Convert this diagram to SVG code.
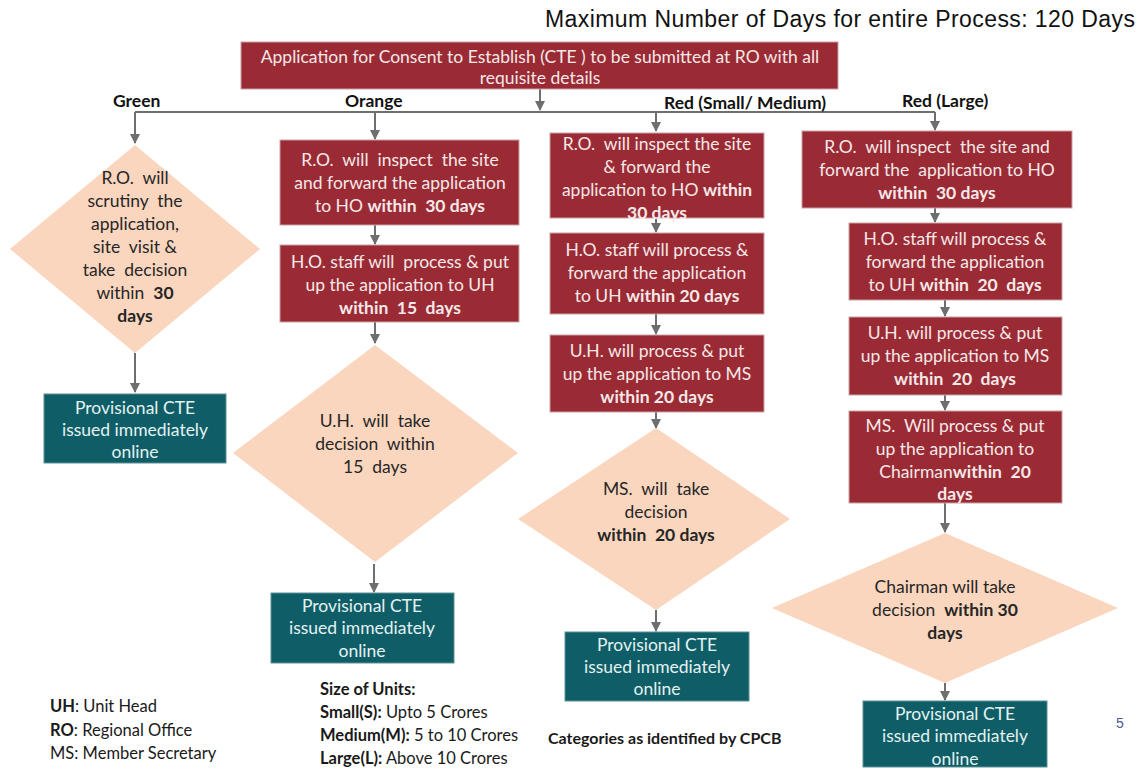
<svg xmlns="http://www.w3.org/2000/svg" width="1139" height="771" viewBox="0 0 1139 771" xml:space="preserve">
<style>
.bg{fill:#ffffff}
.red{fill:#9a2b35;stroke:#c9a0a4;stroke-width:1}
.dia{fill:#fbd6bf}
.teal{fill:#0f5e67;stroke:#5f8f95;stroke-width:1}
text{font-family:Lato,"Open Sans","Liberation Sans",sans-serif;font-size:17.5px;white-space:pre}
.wt{fill:#f6e8e8;text-anchor:middle}
.tt{fill:#e4f2f2;text-anchor:middle}
.dt{fill:#262626;text-anchor:middle}
.lab{fill:#111;font-weight:bold;font-size:17.5px}
.leg{fill:#1a1a1a;font-size:16.5px}
.b{font-weight:bold}
.con line,.con path{stroke:#6e6e6e;stroke-width:2;fill:none}
</style>
<defs>
<marker id="ah" viewBox="0 0 10 10" refX="9" refY="5" markerWidth="5" markerHeight="5" orient="auto" markerUnits="strokeWidth">
<path d="M0,0 L10,5 L0,10 z" fill="#6e6e6e"/>
</marker>
</defs>
<rect class="bg" x="0" y="0" width="1139" height="771"/>

<text x="1135" y="27" text-anchor="end" textLength="590" lengthAdjust="spacing" style="font-family:'Liberation Sans Narrow','Liberation Sans',Arial,sans-serif;font-size:23px;fill:#111">Maximum Number of Days for entire Process: 120 Days</text>

<g id="connectors" class="con">
<line x1="540" y1="89" x2="540" y2="110" marker-end="url(#ah)"/>
<path d="M135,112 L935,112"/>
<line x1="135" y1="112" x2="135" y2="143" marker-end="url(#ah)"/>
<line x1="375" y1="112" x2="375" y2="139" marker-end="url(#ah)"/>
<line x1="656" y1="112" x2="656" y2="131" marker-end="url(#ah)"/>
<line x1="935" y1="112" x2="935" y2="130" marker-end="url(#ah)"/>
<line x1="135" y1="353" x2="135" y2="392" marker-end="url(#ah)"/>
<line x1="375" y1="225" x2="375" y2="244" marker-end="url(#ah)"/>
<line x1="375" y1="322" x2="375" y2="343" marker-end="url(#ah)"/>
<line x1="374" y1="564" x2="374" y2="592" marker-end="url(#ah)"/>
<line x1="656" y1="218" x2="656" y2="232" marker-end="url(#ah)"/>
<line x1="656" y1="314" x2="656" y2="334" marker-end="url(#ah)"/>
<line x1="656" y1="412" x2="656" y2="428" marker-end="url(#ah)"/>
<line x1="656" y1="610" x2="656" y2="631" marker-end="url(#ah)"/>
<line x1="935" y1="208" x2="935" y2="222" marker-end="url(#ah)"/>
<line x1="945" y1="300" x2="945" y2="316" marker-end="url(#ah)"/>
<line x1="945" y1="395" x2="945" y2="410" marker-end="url(#ah)"/>
<line x1="945" y1="503" x2="945" y2="532" marker-end="url(#ah)"/>
<line x1="945" y1="683" x2="945" y2="700" marker-end="url(#ah)"/>
</g>

<g id="start">
<rect class="red" x="241" y="42" width="597" height="47"/>
<text class="wt" x="540" y="63">Application for Consent to Establish (CTE ) to be submitted at RO with all</text>
<text class="wt" x="540" y="84">requisite details</text>
</g>

<g id="labels">
<text class="lab" x="113" y="107">Green</text>
<text class="lab" x="345" y="107">Orange</text>
<text class="lab" x="664" y="109">Red (Small/ Medium)</text>
<text class="lab" x="902" y="107">Red (Large)</text>
</g>

<g id="green-decision">
<polygon class="dia" points="135,145 260,249 135,353 10,249"/>
<text class="dt" x="135" y="184">R.O.  will</text>
<text class="dt" x="135" y="207">scrutiny  the</text>
<text class="dt" x="135" y="230">application,</text>
<text class="dt" x="135" y="253">site  visit &amp;</text>
<text class="dt" x="135" y="276">take  decision</text>
<text class="dt" x="135" y="299">within  <tspan class="b">30</tspan></text>
<text class="dt b" x="135" y="322">days</text>
</g>
<g id="green-result">
<rect class="teal" x="44" y="394" width="182" height="69"/>
<text class="tt" x="135" y="414">Provisional CTE</text>
<text class="tt" x="135" y="436">issued immediately</text>
<text class="tt" x="135" y="458">online</text>
</g>

<g id="orange-ro">
<rect class="red" x="280" y="140" width="239" height="85"/>
<text class="wt" x="400" y="166">R.O.  will  inspect  the site</text>
<text class="wt" x="400" y="189">and forward the application</text>
<text class="wt" x="400" y="212">to HO <tspan class="b">within  30 days</tspan></text>
</g>
<g id="orange-ho">
<rect class="red" x="280" y="245" width="239" height="77"/>
<text class="wt" x="400" y="268">H.O. staff will  process &amp; put</text>
<text class="wt" x="400" y="291">up the application to UH</text>
<text class="wt b" x="400" y="314">within  15  days</text>
</g>
<g id="orange-decision">
<polygon class="dia" points="375,345 518,453 375,562 233,453"/>
<text class="dt" x="375" y="427">U.H.  will  take</text>
<text class="dt" x="375" y="450">decision  within</text>
<text class="dt" x="375" y="473">15  days</text>
</g>
<g id="orange-result">
<rect class="teal" x="271" y="593" width="183" height="70"/>
<text class="tt" x="362" y="612">Provisional CTE</text>
<text class="tt" x="362" y="634">issued immediately</text>
<text class="tt" x="362" y="657">online</text>
</g>

<g id="redsm-ro">
<rect class="red" x="550" y="133" width="214" height="85"/>
<text class="wt" x="657" y="150">R.O.  will inspect the site</text>
<text class="wt" x="657" y="173">&amp; forward the</text>
<text class="wt" x="657" y="196">application to HO <tspan class="b">within</tspan></text>
<text class="wt b" x="657" y="219">30 days</text>
</g>
<g id="redsm-ho">
<rect class="red" x="550" y="233" width="214" height="81"/>
<text class="wt" x="657" y="256">H.O. staff will process &amp;</text>
<text class="wt" x="657" y="279">forward the application</text>
<text class="wt" x="657" y="302">to UH <tspan class="b">within 20 days</tspan></text>
</g>
<g id="redsm-uh">
<rect class="red" x="550" y="335" width="214" height="77"/>
<text class="wt" x="657" y="357">U.H. will process &amp; put</text>
<text class="wt" x="657" y="380">up the application to MS</text>
<text class="wt b" x="657" y="403">within 20 days</text>
</g>
<g id="redsm-decision">
<polygon class="dia" points="656,428 790,519 656,610 518,519"/>
<text class="dt" x="656" y="495">MS.  will  take</text>
<text class="dt" x="656" y="518">decision</text>
<text class="dt b" x="656" y="541">within  20 days</text>
</g>
<g id="redsm-result">
<rect class="teal" x="565" y="632" width="184" height="69"/>
<text class="tt" x="657" y="651">Provisional CTE</text>
<text class="tt" x="657" y="673">issued immediately</text>
<text class="tt" x="657" y="695">online</text>
</g>

<g id="redl-ro">
<rect class="red" x="802" y="131" width="270" height="77"/>
<text class="wt" x="937" y="153">R.O.  will inspect  the site and</text>
<text class="wt" x="937" y="176">forward the  application to HO</text>
<text class="wt b" x="937" y="199">within  30 days</text>
</g>
<g id="redl-ho">
<rect class="red" x="849" y="223" width="213" height="77"/>
<text class="wt" x="955" y="245">H.O. staff will process &amp;</text>
<text class="wt" x="955" y="268">forward the application</text>
<text class="wt" x="955" y="291">to UH <tspan class="b">within  20  days</tspan></text>
</g>
<g id="redl-uh">
<rect class="red" x="849" y="317" width="213" height="78"/>
<text class="wt" x="955" y="339">U.H. will process &amp; put</text>
<text class="wt" x="955" y="362">up the application to MS</text>
<text class="wt b" x="955" y="385">within  20  days</text>
</g>
<g id="redl-ms">
<rect class="red" x="849" y="411" width="213" height="92"/>
<text class="wt" x="955" y="432">MS.  Will process &amp; put</text>
<text class="wt" x="955" y="455">up the application to</text>
<text class="wt" x="955" y="478">Chairman<tspan class="b">within  20</tspan></text>
<text class="wt b" x="955" y="500">days</text>
</g>
<g id="redl-decision">
<polygon class="dia" points="945,533 1118,608 945,683 772,608"/>
<text class="dt" x="945" y="593">Chairman will take</text>
<text class="dt" x="945" y="616">decision  <tspan class="b">within 30</tspan></text>
<text class="dt b" x="945" y="639">days</text>
</g>
<g id="redl-result">
<rect class="teal" x="863" y="701" width="184" height="66"/>
<text class="tt" x="955" y="720">Provisional CTE</text>
<text class="tt" x="955" y="742">issued immediately</text>
<text class="tt" x="955" y="765">online</text>
</g>

<g id="legend">
<text class="leg" x="50" y="712"><tspan class="b">UH</tspan>: Unit Head</text>
<text class="leg" x="50" y="736"><tspan class="b">RO</tspan>: Regional Office</text>
<text class="leg" x="50" y="759">MS: Member Secretary</text>
<text class="leg b" x="320" y="695">Size of Units:</text>
<text class="leg" x="320" y="718"><tspan class="b">Small(S):</tspan> Upto 5 Crores</text>
<text class="leg" x="320" y="741"><tspan class="b">Medium(M):</tspan> 5 to 10 Crores</text>
<text class="leg" x="320" y="764"><tspan class="b">Large(L):</tspan> Above 10 Crores</text>
<text class="leg b" x="548" y="744" style="font-size:16px">Categories as identified by CPCB</text>
<text x="1116" y="728" style="font-family:'Liberation Sans',Arial,sans-serif;font-size:14px;fill:#4a5a9a">5</text>
</g>
</svg>
